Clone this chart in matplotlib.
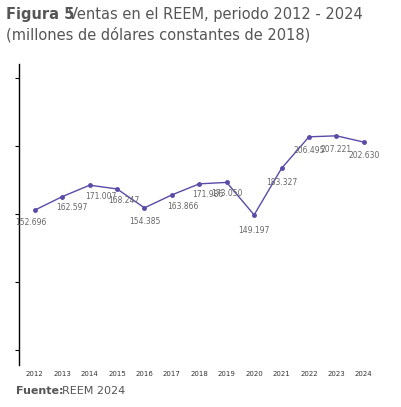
import matplotlib
matplotlib.use("Agg")
import matplotlib.pyplot as plt

years = [2012,2013,2014,2015,2016,2017,2018,2019,2020,2021,2022,2023,2024]
values = [152.696,162.597,171.007,168.247,154.385,163.866,171.986,173.050,149.197,183.327,206.495,207.221,202.630]
labels = ["152.696","162.597","171.007","168.247","154.385","163.866","171.986","173.050","149.197","183.327","206.495","207.221","202.630"]

fig = plt.figure(figsize=(4.02,4.07), dpi=100)
ax = fig.add_axes([0.047, 0.103, 0.89, 0.74])
col = "#5b4aa8"
ax.plot(years, values, color=col, lw=1, marker="o", ms=2.5)
offs = [(-3,-9),(7,-8),(8,-8),(5,-8),(0,-10),(8,-8),(6,-8),(0,-8),(0,-11),(0,-10),(0,-10),(0,-10),(0,-10)]
for x, y, t, o in zip(years, values, labels, offs):
    ax.annotate(t, (x, y), xytext=o, textcoords="offset points", ha="center", va="center",
                fontsize=5.5, color="#666666")
ax.set_xlim(2011.42, 2024.47)
ax.set_ylim(39, 260)
ax.set_yticks([50,100,150,200,250])
ax.set_yticklabels([])
ax.set_xticks(years)
ax.tick_params(axis="x", labelsize=5, length=0, colors="#333333", pad=4)
ax.tick_params(axis="y", length=3, width=0.8)
for s in ["top","right","bottom"]:
    ax.spines[s].set_visible(False)
ax.spines["left"].set_linewidth(1)

t1 = fig.text(0.015, 0.965, "Figura 5", fontsize=10.5, color="#555555", va="center", fontweight="bold")
fig.text(0.168, 0.965, "Ventas en el REEM, periodo 2012 - 2024", fontsize=10.5, color="#555555", va="center")
fig.text(0.015, 0.915, "(millones de dólares constantes de 2018)", fontsize=10.5, color="#555555", va="center")
fig.text(0.04, 0.04, "Fuente:", fontsize=8, color="#555555", va="center", fontweight="bold")
fig.text(0.155, 0.04, "REEM 2024", fontsize=8, color="#555555", va="center")
fig.savefig("out.png", dpi=100)
